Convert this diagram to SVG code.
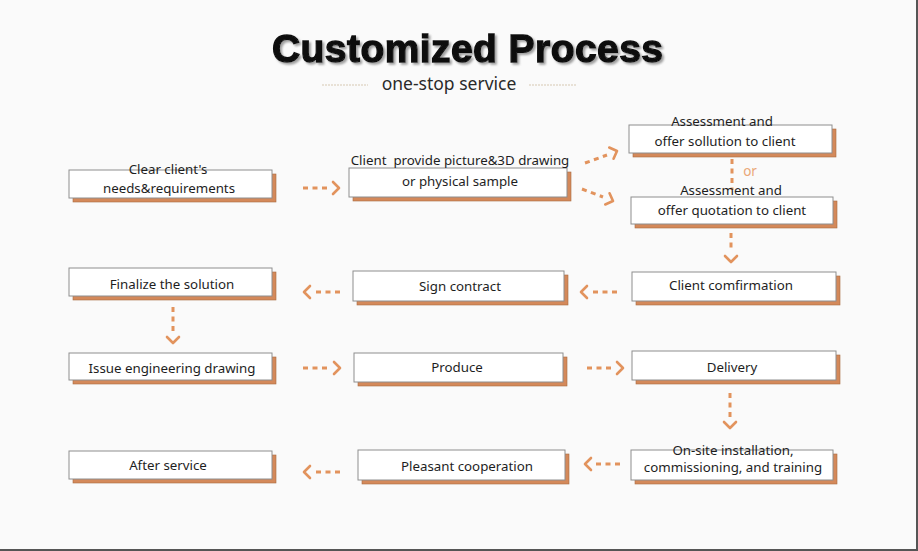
<svg xmlns="http://www.w3.org/2000/svg" width="918" height="551" viewBox="0 0 918 551">
<style>
.bg{fill:#fafafa}
.sh{fill:#d4895a;stroke:#a96b42;stroke-width:0.6}
.bx{fill:#ffffff;stroke:#8e8e8e;stroke-width:1}
.t{font-family:"Noto Sans","Open Sans","DejaVu Sans",sans-serif;font-size:13.3px;fill:#1e1e1e;text-anchor:middle;white-space:pre}
.dash{fill:none;stroke:#e2935d;stroke-width:3;stroke-dasharray:5 4.5;stroke-linecap:butt}
.chev{fill:none;stroke:#e2935d;stroke-width:2.6;stroke-linecap:round;stroke-linejoin:round}
.title{font-family:"Liberation Sans",Arial,sans-serif;font-weight:bold;font-size:39px;text-anchor:middle}
.sub{font-family:"Noto Sans","Open Sans",sans-serif;font-size:17.5px;fill:#2a2a2a;text-anchor:middle}
.deco{stroke:#d6c7b2;stroke-width:1.2;stroke-dasharray:2 1}
</style>
<defs>
<path id="chev" d="M-6,-6 L0,0 L-6,6"/>
<filter id="tshadow" x="-5%" y="-20%" width="110%" height="150%">
<feDropShadow dx="2" dy="2" stdDeviation="1" flood-color="#888" flood-opacity="0.8"/>
</filter>
</defs>
<rect class="bg" x="0" y="0" width="918" height="551"/>
<rect x="916" y="0" width="2" height="551" fill="#555"/>
<rect x="0" y="549" width="918" height="2" fill="#555"/>

<g id="title">
<text class="title" x="467.5" y="62" fill="#111" stroke="#111" stroke-width="1.3" textLength="391" filter="url(#tshadow)">Customized Process</text>
<line class="deco" x1="322" y1="85" x2="368" y2="85"/>
<line class="deco" x1="529" y1="85" x2="577" y2="85"/>
<text class="sub" x="449" y="90">one-stop service</text>
</g>

<g id="connectors">
<line class="dash" x1="303" y1="188" x2="328" y2="188"/>
<use href="#chev" class="chev" transform="translate(339,188)"/>
<line class="dash" x1="585" y1="163" x2="607" y2="155"/>
<use href="#chev" class="chev" transform="translate(617,151) rotate(-21)"/>
<line class="dash" x1="582" y1="189" x2="603" y2="197"/>
<use href="#chev" class="chev" transform="translate(613,201) rotate(21)"/>
<line class="dash" x1="732" y1="159" x2="732" y2="190"/>
<text x="750" y="176" style="font-family:'Noto Sans','Open Sans',sans-serif;font-size:13.5px;fill:#eaa878;text-anchor:middle">or</text>
<line class="dash" x1="731" y1="233" x2="731" y2="252"/>
<use href="#chev" class="chev" transform="translate(731,262) rotate(90)"/>
<line class="dash" x1="617" y1="292" x2="592" y2="292"/>
<use href="#chev" class="chev" transform="translate(581,292) rotate(180)"/>
<line class="dash" x1="340" y1="292" x2="315" y2="292"/>
<use href="#chev" class="chev" transform="translate(304,292) rotate(180)"/>
<line class="dash" x1="173" y1="307" x2="173" y2="333"/>
<use href="#chev" class="chev" transform="translate(173,343) rotate(90)"/>
<line class="dash" x1="303" y1="368" x2="328" y2="368"/>
<use href="#chev" class="chev" transform="translate(340,368)"/>
<line class="dash" x1="587" y1="368" x2="612" y2="368"/>
<use href="#chev" class="chev" transform="translate(623,368)"/>
<line class="dash" x1="730" y1="393" x2="730" y2="418"/>
<use href="#chev" class="chev" transform="translate(730,428) rotate(90)"/>
<line class="dash" x1="620" y1="464" x2="596" y2="464"/>
<use href="#chev" class="chev" transform="translate(585,464) rotate(180)"/>
<line class="dash" x1="340" y1="472" x2="315" y2="472"/>
<use href="#chev" class="chev" transform="translate(304,472) rotate(180)"/>
</g>

<g id="n1"><rect class="sh" x="73" y="174" width="203" height="28"/><rect class="bx" x="69" y="170" width="203" height="28"/>
<text class="t" x="168" y="174">Clear client's</text><text class="t" x="169" y="193">needs&amp;requirements</text></g>
<g id="n2"><rect class="sh" x="353" y="172" width="218" height="29"/><rect class="bx" x="349" y="168" width="218" height="29"/>
<text class="t" x="460" y="165">Client  provide picture&amp;3D drawing</text><text class="t" x="460" y="186">or physical sample</text></g>
<g id="n3"><rect class="sh" x="633" y="129" width="203" height="28"/><rect class="bx" x="629" y="125" width="203" height="28"/>
<text class="t" x="722" y="126">Assessment and</text><text class="t" x="725" y="146">offer sollution to client</text></g>
<g id="n4"><rect class="sh" x="635" y="201" width="202" height="27"/><rect class="bx" x="631" y="197" width="202" height="27"/>
<text class="t" x="731" y="195">Assessment and</text><text class="t" x="732" y="215">offer quotation to client</text></g>
<g id="n5"><rect class="sh" x="73" y="272" width="203" height="28"/><rect class="bx" x="69" y="268" width="203" height="28"/>
<text class="t" x="172" y="289">Finalize the solution</text></g>
<g id="n6"><rect class="sh" x="357" y="275" width="211" height="30"/><rect class="bx" x="353" y="271" width="211" height="30"/>
<text class="t" x="460" y="291">Sign contract</text></g>
<g id="n7"><rect class="sh" x="636" y="276" width="204" height="29"/><rect class="bx" x="632" y="272" width="204" height="29"/>
<text class="t" x="731" y="290">Client comfirmation</text></g>
<g id="n8"><rect class="sh" x="73" y="357" width="203" height="27"/><rect class="bx" x="69" y="353" width="203" height="27"/>
<text class="t" x="172" y="373">Issue engineering drawing</text></g>
<g id="n9"><rect class="sh" x="358" y="357" width="209" height="29"/><rect class="bx" x="354" y="353" width="209" height="29"/>
<text class="t" x="457" y="372">Produce</text></g>
<g id="n10"><rect class="sh" x="636" y="355" width="204" height="29"/><rect class="bx" x="632" y="351" width="204" height="29"/>
<text class="t" x="732" y="372">Delivery</text></g>
<g id="n11"><rect class="sh" x="73" y="455" width="203" height="28"/><rect class="bx" x="69" y="451" width="203" height="28"/>
<text class="t" x="168" y="470">After service</text></g>
<g id="n12"><rect class="sh" x="362" y="454" width="207" height="30"/><rect class="bx" x="358" y="450" width="207" height="30"/>
<text class="t" x="467" y="471">Pleasant cooperation</text></g>
<g id="n13"><rect class="sh" x="635" y="454" width="202" height="30"/><rect class="bx" x="631" y="450" width="202" height="30"/>
<text class="t" x="733" y="455">On-site installation,</text><text class="t" x="733" y="472">commissioning, and training</text></g>
</svg>
